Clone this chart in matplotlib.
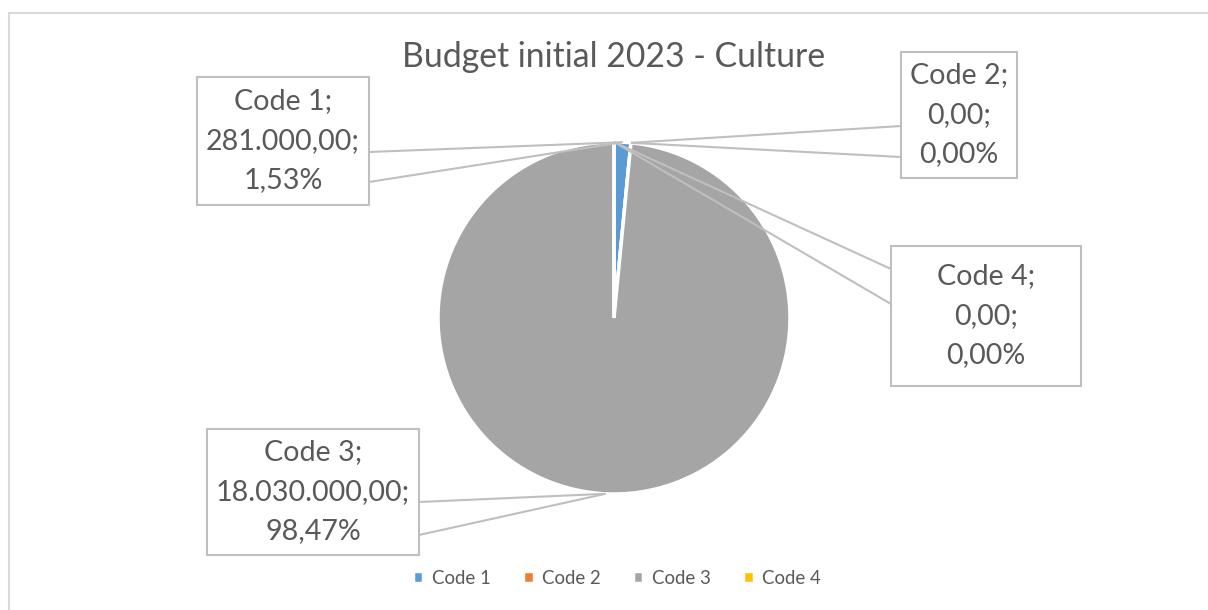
import numpy as np
import matplotlib.pyplot as plt
from matplotlib.patches import Rectangle

# Budget data
categories = ["Code 1", "Code 2", "Code 3", "Code 4"]
amounts = [281000.00, 0.00, 18030000.00, 0.00]
colors = ["#5b9bd5", "#ed7d31", "#a5a5a5", "#ffc000"]
title = "Budget initial 2023 - Culture"

W, H = 1208, 610
FONT = ["Lato", "DejaVu Sans"]
TXT = "#595959"
LINE = "#bfbfbf"

fig = plt.figure(figsize=(W / 100, H / 100), dpi=100)
ax = fig.add_axes([0, 0, 1, 1])
ax.set_xlim(0, W)
ax.set_ylim(0, H)
ax.set_aspect("equal")
ax.axis("off")


def py(y):
    # convert top-down pixel rows to axis y
    return H - y


# outer chart frame
ax.add_patch(Rectangle((9, -10), W + 20, py(13) + 10, fill=False,
                       edgecolor="#d9d9d9", linewidth=1.5, zorder=0))

cx, cy, r = 614, py(318), 176
wedges, _ = ax.pie(amounts, colors=colors, startangle=90, counterclock=False,
                   center=(cx, cy), radius=r, frame=True,
                   wedgeprops=dict(edgecolor="white", linewidth=2.5))
ax.set_xlim(0, W)
ax.set_ylim(0, H)
ax.axis("off")

total = sum(amounts)


def fmt_num(v):
    s = f"{v:,.2f}"
    return s.replace(",", "X").replace(".", ",").replace("X", ".")


def fmt_pct(v):
    return f"{v * 100:.2f}".replace(".", ",") + "%"


# label boxes: (left, top, right, bottom) in pixel rows, side of leader, leader rows
boxes = [
    ((197, 77, 369, 205), "right", (152, 182)),
    ((901, 52, 1017, 178), "left", (126, 157)),
    ((207, 429, 419, 555), "right", (502, 535)),
    ((891, 246, 1081, 386), "left", (269, 304)),
]

cum = 0.0
for cat, val, (box, side, (l1, l2)) in zip(categories, amounts, boxes):
    frac = val / total
    mid = 90 - (cum + frac / 2) * 360
    cum += frac
    ax_pt = cx + r * np.cos(np.radians(mid))
    ay_pt = cy + r * np.sin(np.radians(mid))
    x0, y0, x1, y1 = box
    ax.add_patch(Rectangle((x0, py(y1)), x1 - x0, y1 - y0, facecolor="white",
                           edgecolor=LINE, linewidth=1.5, zorder=5))
    ex = x1 if side == "right" else x0
    for ly in (l1, l2):
        ax.plot([ex, ax_pt], [py(ly), ay_pt], color=LINE, lw=1.5, zorder=4,
                solid_capstyle="butt")
    mx = (x0 + x1) / 2
    my = (y0 + y1) / 2
    lines = [f"{cat};", f"{fmt_num(val)};", fmt_pct(frac)]
    for i, t in enumerate(lines):
        ax.text(mx, py(my + (i - 1) * 39.5), t, ha="center", va="center",
                fontsize=20.6, color=TXT, family=FONT, zorder=6)

ax.text(cx, py(57), title, ha="center", va="center", fontsize=24.3,
        color=TXT, family=FONT)

leg = ax.legend(wedges, categories, loc="center", ncol=4,
                bbox_to_anchor=(617 / W, 1 - 578 / H), frameon=False,
                handlelength=0.55, handleheight=0.55, handletextpad=0.45,
                columnspacing=1.75, prop=dict(family=FONT, size=13.4))
for t in leg.get_texts():
    t.set_color(TXT)

fig.savefig("out.png", dpi=100)
